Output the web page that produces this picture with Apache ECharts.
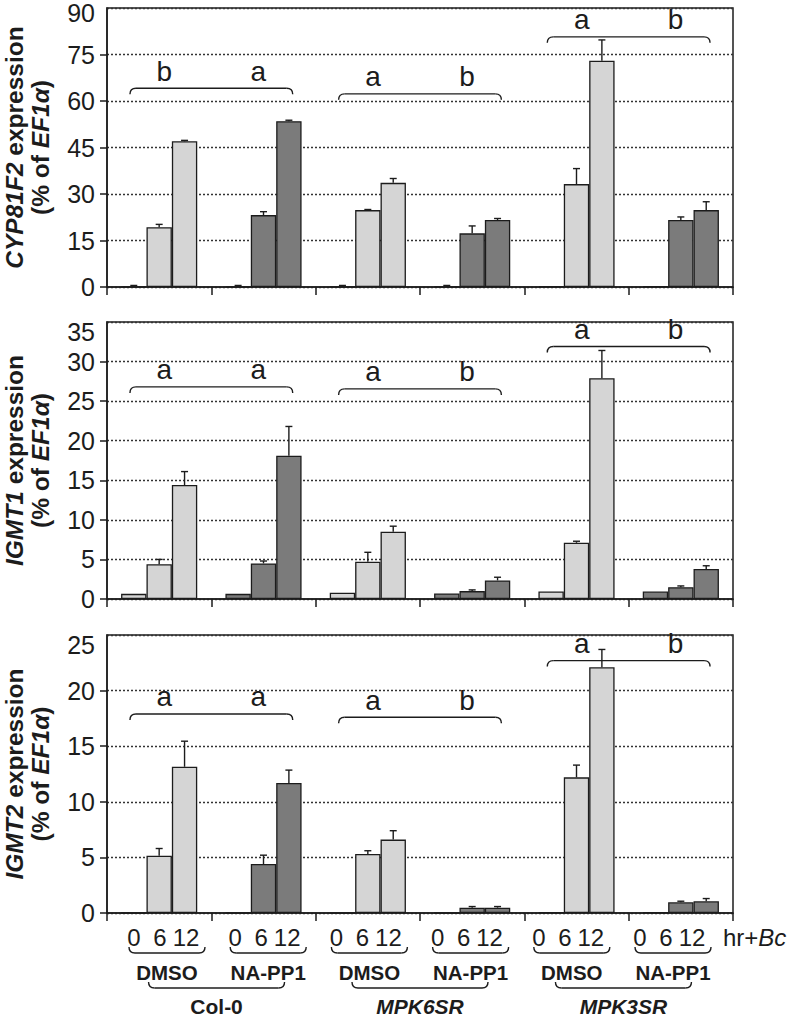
<!DOCTYPE html>
<html><head><meta charset="utf-8">
<script src="https://cdn.jsdelivr.net/npm/echarts@6/dist/echarts.min.js"></script>
<style>html,body{margin:0;padding:0;background:#fff}#c{width:789px;height:1018px}</style>
</head><body><div id="c"></div>
<script>
// ---------- data ----------
const groups = ['Col-0 DMSO','Col-0 NA-PP1','MPK6SR DMSO','MPK6SR NA-PP1','MPK3SR DMSO','MPK3SR NA-PP1'];
const treatments = ['DMSO','NA-PP1','DMSO','NA-PP1','DMSO','NA-PP1'];
const genotypes = ['Col-0','MPK6SR','MPK3SR'];
const genotypeItalic = [false, true, true];
const timeLabels = ['0','6','12'];

// CYP81F2
const cypTicks = [0,15,30,45,60,75,90];
const cyp0 = [0.1, 0.1, 0.1, 0.1, 0.3, 0.3];
const cyp0Err = [0.4, 0.4, 0.4, 0.4, 0, 0];
const cyp6 = [19.3, 23.2, 24.8, 17.3, 33.2, 21.6];
const cyp6Err = [0.9, 1.1, 0.2, 2.4, 5.0, 1.0];
const cyp12 = [47.0, 53.5, 33.6, 21.6, 73.0, 24.8];
const cyp12Err = [0.3, 0.3, 1.4, 0.5, 6.7, 2.7];
const cypBracket = [64.1, 62.3, 80.7];
const cypLetters = [['b','a'],['a','b'],['a','b']];

// IGMT1
const igmt1Ticks = [0,5,10,15,20,25,30,35];
const igmt1_0 = [0.65, 0.65, 0.8, 0.7, 0.95, 0.95];
const igmt1_0Err = [0, 0, 0, 0, 0, 0];
const igmt1_6 = [4.4, 4.5, 4.7, 1.0, 7.1, 1.5];
const igmt1_6Err = [0.6, 0.3, 1.2, 0.15, 0.2, 0.15];
const igmt1_12 = [14.4, 18.1, 8.5, 2.35, 27.9, 3.8];
const igmt1_12Err = [1.7, 3.7, 0.7, 0.4, 3.5, 0.4];
const igmt1Bracket = [26.8, 26.55, 31.9];
const igmt1Letters = [['a','a'],['a','b'],['a','b']];

// IGMT2
const igmt2Ticks = [0,5,10,15,20,25];
const igmt2_0 = [0, 0, 0, 0, 0.05, 0.05];
const igmt2_0Err = [0, 0, 0, 0, 0, 0];
const igmt2_6 = [5.15, 4.4, 5.3, 0.48, 12.2, 0.96];
const igmt2_6Err = [0.65, 0.8, 0.3, 0.1, 1.1, 0.1];
const igmt2_12 = [13.15, 11.7, 6.6, 0.48, 22.1, 1.05];
const igmt2_12Err = [2.3, 1.15, 0.8, 0.1, 1.6, 0.25];
const igmt2Bracket = [17.9, 17.6, 22.7];
const igmt2Letters = [['a','a'],['a','b'],['a','b']];

// ---------- chart ----------
const FONT = "'Liberation Sans', Arial, Helvetica, sans-serif";
const LIGHT = '#d5d5d5', DARK = '#7b7b7b', INK = '#1c1c1c';
const GAP = 0.27;

const panels = [
  {gene:'CYP81F2', ticks:cypTicks, vals:[cyp0,cyp6,cyp12], errs:[cyp0Err,cyp6Err,cyp12Err], br:cypBracket, letters:cypLetters},
  {gene:'IGMT1', ticks:igmt1Ticks, vals:[igmt1_0,igmt1_6,igmt1_12], errs:[igmt1_0Err,igmt1_6Err,igmt1_12Err], br:igmt1Bracket, letters:igmt1Letters},
  {gene:'IGMT2', ticks:igmt2Ticks, vals:[igmt2_0,igmt2_6,igmt2_12], errs:[igmt2_0Err,igmt2_6Err,igmt2_12Err], br:igmt2Bracket, letters:igmt2Letters}
];
const gridTops = [8, 322, 635];
const gridHeights = [279, 277, 278];

const lineStyle = {stroke: INK, lineWidth: 1.4, fill: 'none'};
function brace(x1, x2, y, h, dir, r) {
  return [
    {type:'line', shape:{x1:x1+r, y1:y, x2:x2-r, y2:y}, style:lineStyle},
    {type:'bezierCurve', shape:{x1:x1, y1:y+dir*h, cpx1:x1, cpy1:y, x2:x1+r, y2:y}, style:lineStyle},
    {type:'bezierCurve', shape:{x1:x2-r, y1:y, cpx1:x2, cpy1:y, x2:x2, y2:y+dir*h}, style:lineStyle}
  ];
}
function txt(x, y, text, opts) {
  return {type:'text', x:x, y:y, style:Object.assign({
    text:text, fill:INK, fontFamily:FONT, fontSize:23, align:'center', verticalAlign:'middle',
    textAlign:'center', textVerticalAlign:'middle'}, opts||{})};
}

function errRender(params, api) {
  const i = api.value(0), v = api.value(1), e = api.value(2), t = api.value(3);
  if (!(e > 0)) return null;
  const band = api.size([1, 0])[0];
  const bw = band * (1 - GAP) / 3;
  const base = api.coord([i, v]);
  const cx = base[0] + (t - 1) * bw;
  const yE = api.coord([i, v + e])[1];
  return {type:'group', children:[
    {type:'line', shape:{x1:cx, y1:base[1], x2:cx, y2:yE}, style:lineStyle},
    {type:'line', shape:{x1:cx-3.5, y1:yE, x2:cx+3.5, y2:yE}, style:lineStyle}
  ]};
}
function makeBracketRender(letters) {
  return function(params, api) {
    const g = params.dataIndex;
    const i = api.value(0), y = api.value(1);
    const band = api.size([1, 0])[0];
    const c0 = api.coord([i, y]), c1 = api.coord([i + 1, y]);
    const mid = (c0[0] + c1[0]) / 2, py = c0[1];
    const hw = band * 0.78;
    const ch = brace(mid - hw, mid + hw, py, 6, 1, 6);
    ch.push(txt(mid - band * 0.45, py - 17, letters[g][0], {fontSize:28}));
    ch.push(txt(mid + band * 0.45, py - 17, letters[g][1], {fontSize:28}));
    return {type:'group', children:ch};
  };
}
// top tick label of each y axis, drawn hanging below its tick (as in the figure)
function maxLabelRender(params, api) {
  const v = api.value(1);
  const band = api.size([1, 0])[0];
  const c = api.coord([0, v]);
  const axisX = c[0] - band / 2;
  const y = c[1] - 3;
  return txt(axisX - 12, y < 12 ? 0 : y, String(v),
    {fontSize:25, align:'right', textAlign:'right', verticalAlign:'top', textVerticalAlign:'top'});
}
function labelRender(params, api) {
  const i = api.value(0);
  const band = api.size([1, 0])[0];
  const c = api.coord([i, 0]);
  const by = c[1];
  const lc = c[0] + (2.5 - i) * 0.03 * band;
  const ch = [];
  timeLabels.forEach((t, k) => ch.push(txt(lc - 7 + (k - 1) * 26, by + 24, t, {fontSize:24})));
  brace(lc - 38, lc + 38, by + 40, 6, -1, 6).forEach(e => ch.push(e));
  ch.push(txt(lc, by + 59, treatments[i], {fontSize:20.5, fontWeight:'bold'}));
  if (i % 2 === 0) {
    const c1 = api.coord([i + 1, 0]);
    const mid = (c[0] + c1[0]) / 2 + (2.5 - (i + 0.5)) * 0.025 * band;
    brace(mid - 68, mid + 68, by + 75, 6, -1, 6).forEach(e => ch.push(e));
    const gi = i / 2;
    ch.push(txt(mid, by + 93, genotypes[gi], {fontSize:21, fontWeight:'bold', fontStyle: genotypeItalic[gi] ? 'italic' : 'normal'}));
  }
  if (i === groups.length - 1) {
    ch.push(txt(c[0] + band / 2 - 10, by + 24, 'hr+{i|Bc}', {align:'left', textAlign:'left', fontSize:24,
      rich:{i:{fontFamily:FONT, fontSize:24, fontStyle:'italic', fill:INK}}}));
  }
  return {type:'group', children:ch};
}

const grid = [], xAxis = [], yAxis = [], series = [];
panels.forEach((p, k) => {
  const t = p.ticks;
  const tMax = t[t.length - 1];
  grid.push({left:107, width:626, top:gridTops[k], height:gridHeights[k], show:true,
    borderColor:INK, borderWidth:1.5, backgroundColor:'transparent', containLabel:false, outerBoundsMode:'none'});
  xAxis.push({type:'category', gridIndex:k, data:groups,
    axisLine:{show:true, lineStyle:{color:INK, width:1.5}},
    axisTick:{show:true, length:8, inside:false, interval:0, lineStyle:{color:INK, width:1.5}},
    axisLabel:{show:false}, splitLine:{show:false}});
  yAxis.push({type:'value', gridIndex:k, min:t[0], max:tMax, interval:t[1]-t[0],
    name:'{i|' + p.gene + '} expression\n(% of {i|EF1α})',
    nameLocation:'middle', nameRotate:90, nameGap:54,
    nameTextStyle:{fontFamily:FONT, fontSize:24.5, fontWeight:'bold', color:INK, lineHeight:26, align:'center',
      rich:{i:{fontFamily:FONT, fontSize:24.5, fontWeight:'bold', fontStyle:'italic', color:INK, lineHeight:26}}},
    axisLine:{show:true, lineStyle:{color:INK, width:1.5}},
    axisTick:{show:true, length:7, inside:false, lineStyle:{color:INK, width:1.5}},
    axisLabel:{fontFamily:FONT, fontSize:25, color:INK, margin:12, showMaxLabel:false},
    splitLine:{show:true, lineStyle:{color:'#333', width:1.4, type:[2,2]}}});
  timeLabels.forEach((tl, ti) => {
    series.push({type:'bar', name:tl + ' hr', xAxisIndex:k, yAxisIndex:k, barGap:'0%', barCategoryGap:(GAP*100)+'%',
      data:p.vals[ti].map((v, i) => ({value:v, itemStyle:{color: i % 2 ? DARK : LIGHT}})),
      itemStyle:{borderColor:INK, borderWidth:1.3}, z:3, silent:true});
  });
  const errData = [];
  timeLabels.forEach((tl, ti) => p.vals[ti].forEach((v, i) => errData.push([i, v, p.errs[ti][i], ti])));
  series.push({type:'custom', xAxisIndex:k, yAxisIndex:k, data:errData, renderItem:errRender,
    encode:{x:0, y:1}, z:4, clip:false, silent:true});
  series.push({type:'custom', xAxisIndex:k, yAxisIndex:k, data:p.br.map((y, g) => [2*g, y]),
    renderItem:makeBracketRender(p.letters), encode:{x:0, y:1}, z:5, clip:false, silent:true});
  series.push({type:'custom', xAxisIndex:k, yAxisIndex:k, data:[[0, tMax]],
    renderItem:maxLabelRender, encode:{x:0, y:1}, z:5, clip:false, silent:true});
});
series.push({type:'custom', xAxisIndex:2, yAxisIndex:2, data:groups.map((g, i) => [i, 0]),
  renderItem:labelRender, encode:{x:0, y:1}, z:5, clip:false, silent:true});

const chart = echarts.init(document.getElementById('c'), null, {renderer:'svg'});
chart.setOption({animation:false, backgroundColor:'#fff', textStyle:{fontFamily:FONT},
  grid:grid, xAxis:xAxis, yAxis:yAxis, series:series});
</script></body></html>
